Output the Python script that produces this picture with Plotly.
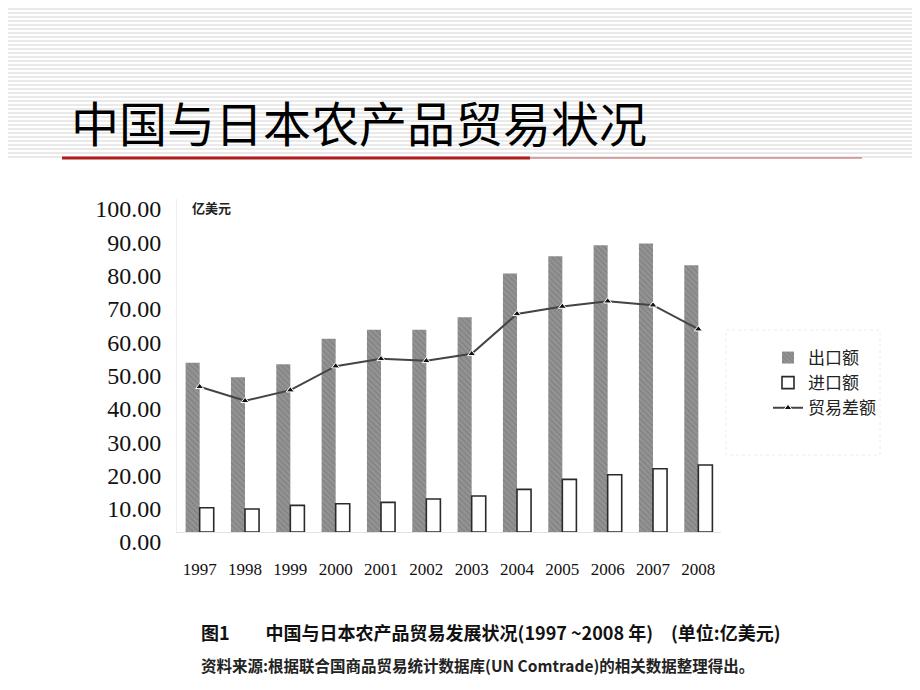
import plotly.graph_objects as go

# data (unit: 亿美元)
years = ["1997", "1998", "1999", "2000", "2001", "2002",
         "2003", "2004", "2005", "2006", "2007", "2008"]
exports = [50.8, 46.5, 50.4, 58.0, 60.7, 60.7, 64.5, 77.6, 82.8, 86.1, 86.6, 80.1]
imports = [7.3, 6.9, 8.0, 8.5, 8.9, 9.9, 10.8, 12.8, 15.8, 17.2, 19.0, 20.1]
balance = [43.6, 39.4, 42.6, 49.8, 52.0, 51.4, 53.5, 65.5, 67.7, 69.3, 68.1, 60.9]
y_ticks = [0, 10, 20, 30, 40, 50, 60, 70, 80, 90, 100]

# page body has an 8px margin, so work in screen pixels and subtract it
OFF = 8
W, H = 920 - OFF, 690 - OFF
L, R, T, B = 177 - OFF, 721 - OFF, 199 - OFF, 532 - OFF   # plot area


def px(x):
    return (x - OFF - L) / (R - L)


def py(y):
    return (B - (y - OFF)) / (B - T)


fig = go.Figure()
fig.add_trace(go.Bar(
    x=years, y=exports, name="出口额",
    marker=dict(color="#8c8c8c", line=dict(width=0),
                pattern=dict(shape="\\", fgcolor="#6c6c6c", bgcolor="#939393",
                             size=4, solidity=0.3)),
))
fig.add_trace(go.Bar(
    x=years, y=imports, name="进口额",
    marker=dict(color="white", line=dict(color="#2a2a2a", width=1.6)),
))
fig.add_trace(go.Scatter(
    x=years, y=balance, name="贸易差额", mode="lines+markers",
    line=dict(color="#444444", width=2),
    marker=dict(symbol="triangle-up", size=7, color="#111111",
                line=dict(color="white", width=1)),
))

# striped slide header
shapes = []
for yy in range(1, 160, 4):
    shapes.append(dict(type="line", xref="paper", yref="paper",
                       x0=px(0), x1=px(920), y0=py(yy), y1=py(yy),
                       line=dict(color="#d4d4d4", width=1), layer="below"))
# red rule under title
shapes.append(dict(type="line", xref="paper", yref="paper",
                   x0=px(530), x1=px(862), y0=py(158), y1=py(158),
                   line=dict(color="#c0504d", width=1)))
shapes.append(dict(type="line", xref="paper", yref="paper",
                   x0=px(62), x1=px(530), y0=py(158), y1=py(158),
                   line=dict(color="#b01e1e", width=3)))
# faint legend frame
shapes.append(dict(type="rect", xref="paper", yref="paper",
                   x0=px(726), x1=px(880), y0=py(330), y1=py(455),
                   line=dict(color="#ececec", width=1, dash="dot")))

annotations = [
    dict(text="中国与日本农产品贸易状况", x=px(69), y=py(121), xref="paper", yref="paper",
         xanchor="left", yanchor="middle", showarrow=False,
         font=dict(size=48, color="#000000", family="Noto Sans CJK SC")),
    dict(text="<b>亿美元</b>", x=px(190), y=py(208), xref="paper", yref="paper",
         xanchor="left", yanchor="middle", showarrow=False,
         font=dict(size=13, color="#222222", family="Noto Sans CJK SC")),
    dict(text="<b>图1　　中国与日本农产品贸易发展状况(1997 ~2008 年)　(单位:亿美元)</b>",
         x=px(199), y=py(632), xref="paper", yref="paper",
         xanchor="left", yanchor="middle", showarrow=False,
         font=dict(size=18, color="#111111", family="Noto Sans CJK SC")),
    dict(text="<b>资料来源:根据联合国商品贸易统计数据库(UN Comtrade)的相关数据整理得出。</b>",
         x=px(199), y=py(665), xref="paper", yref="paper",
         xanchor="left", yanchor="middle", showarrow=False,
         font=dict(size=15.5, color="#222222", family="Noto Sans CJK SC")),
]

fig.update_layout(
    width=W, height=H,
    margin=dict(l=L, r=W - R, t=T, b=H - B, pad=0, autoexpand=False),
    paper_bgcolor="white", plot_bgcolor="white",
    barmode="group", bargap=0.38, bargroupgap=0.0,
    showlegend=True,
    legend=dict(x=px(768), y=py(340), xref="paper", yref="paper",
                xanchor="left", yanchor="top",
                font=dict(size=17, color="#222222", family="Noto Sans CJK SC"),
                bgcolor="rgba(0,0,0,0)", itemwidth=30),
    shapes=shapes, annotations=annotations,
)
fig.update_xaxes(
    type="category", range=[-0.5, len(years) - 0.5],
    showgrid=False, zeroline=False,
    showline=True, linecolor="#e2e2e2", linewidth=1,
    ticks="", ticklabelstandoff=22,
    tickfont=dict(size=17, color="#111111", family="Liberation Serif"),
)
fig.update_yaxes(
    range=[0, 100], tickvals=y_ticks, tickformat=".2f",
    showgrid=False, zeroline=False,
    showline=True, linecolor="#eeeeee", linewidth=1,
    ticks="", ticklabelstandoff=10, ticklabelshift=10,
    tickfont=dict(size=24, color="#111111", family="Liberation Serif"),
)

fig.write_html("out.html")
